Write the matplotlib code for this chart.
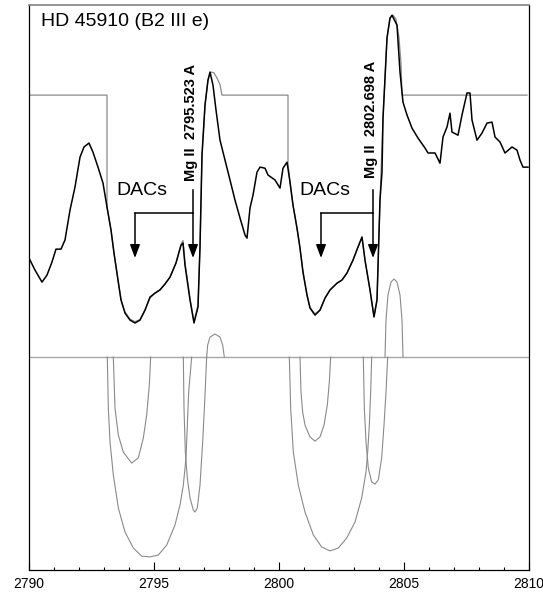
import matplotlib
matplotlib.use("Agg")
import matplotlib.pyplot as plt
from matplotlib.ticker import MultipleLocator

# ---------------- DATA ---------------- #

# observed Mg II spectrum (wavelength in A, normalised flux)
spec_wl = [
    2790.00, 2790.24, 2790.52, 2790.72, 2790.92, 2791.08, 2791.28, 2791.44,
    2791.64, 2791.84, 2792.04, 2792.20, 2792.40, 2792.56, 2792.76, 2792.96,
    2793.12, 2793.28, 2793.40, 2793.56, 2793.68, 2793.84, 2794.04, 2794.24,
    2794.44, 2794.64, 2794.84, 2795.04, 2795.24, 2795.44, 2795.64, 2795.88,
    2796.08, 2796.16, 2796.24, 2796.44, 2796.60, 2796.76, 2796.84, 2796.92,
    2797.04, 2797.16, 2797.24, 2797.36, 2797.48, 2797.64, 2797.84, 2798.04,
    2798.24, 2798.44, 2798.64, 2798.72, 2798.84, 2798.96, 2799.12, 2799.24,
    2799.44, 2799.56, 2799.84, 2800.04, 2800.16, 2800.32, 2800.44, 2800.56,
    2800.72, 2800.84, 2800.96, 2801.12, 2801.24, 2801.44, 2801.64, 2801.84,
    2802.04, 2802.32, 2802.52, 2802.72, 2802.96, 2803.16, 2803.32, 2803.44,
    2803.64, 2803.80, 2803.92, 2804.04, 2804.12, 2804.16, 2804.32, 2804.44,
    2804.52, 2804.72, 2804.84, 2804.96, 2805.12, 2805.32, 2805.56, 2805.84,
    2805.96, 2806.24, 2806.44, 2806.56, 2806.72, 2806.84, 2806.92, 2807.16,
    2807.32, 2807.52, 2807.64, 2807.72, 2807.92, 2808.12, 2808.32, 2808.52,
    2808.64, 2808.84, 2809.04, 2809.32, 2809.52, 2809.64, 2809.76, 2809.96,
]
spec_flux = [
    0.378, 0.332, 0.286, 0.313, 0.363, 0.412, 0.412, 0.447,
    0.561, 0.649, 0.763, 0.802, 0.817, 0.782, 0.725, 0.664,
    0.573, 0.485, 0.397, 0.294, 0.218, 0.168, 0.141, 0.130,
    0.141, 0.179, 0.229, 0.244, 0.256, 0.279, 0.305, 0.359,
    0.427, 0.435, 0.351, 0.218, 0.130, 0.191, 0.420, 0.771,
    0.962, 1.057, 1.088, 1.038, 0.943, 0.828, 0.752, 0.676,
    0.599, 0.531, 0.466, 0.454, 0.569, 0.618, 0.706, 0.725,
    0.721, 0.695, 0.676, 0.645, 0.721, 0.744, 0.668, 0.580,
    0.492, 0.416, 0.324, 0.237, 0.187, 0.160, 0.179, 0.225,
    0.256, 0.282, 0.294, 0.321, 0.370, 0.420, 0.458, 0.370,
    0.256, 0.153, 0.218, 0.599, 0.706, 0.912, 1.218, 1.294,
    1.305, 1.267, 1.088, 0.973, 0.924, 0.874, 0.836, 0.798,
    0.779, 0.779, 0.740, 0.840, 0.878, 0.931, 0.859, 0.847,
    0.924, 1.008, 1.008, 0.905, 0.828, 0.855, 0.893, 0.897,
    0.840, 0.821, 0.779, 0.802, 0.790, 0.752, 0.725, 0.725,
]

# model fit with continuum outside the fitted ranges
model_wl = [
    2790.00, 2793.12, 2793.12, 2793.28, 2793.40, 2793.56, 2793.68, 2793.84,
    2794.04, 2794.24, 2794.44, 2794.64, 2794.84, 2795.04, 2795.24, 2795.44,
    2795.64, 2795.88, 2796.08, 2796.16, 2796.24, 2796.44, 2796.60, 2796.76,
    2796.84, 2796.92, 2797.04, 2797.16, 2797.28, 2797.40, 2797.52, 2797.64,
    2797.72, 2800.36, 2800.36, 2800.44, 2800.56, 2800.72, 2800.84, 2800.96,
    2801.12, 2801.24, 2801.44, 2801.64, 2801.84, 2802.04, 2802.32, 2802.52,
    2802.72, 2802.96, 2803.16, 2803.32, 2803.44, 2803.64, 2803.80, 2803.92,
    2804.04, 2804.16, 2804.32, 2804.44, 2804.56, 2804.68, 2804.80, 2804.88,
    2804.92, 2809.92,
]
model_flux = [
    1.000, 1.000, 0.573, 0.485, 0.397, 0.294, 0.218, 0.172,
    0.145, 0.135, 0.143, 0.180, 0.225, 0.245, 0.258, 0.278,
    0.305, 0.360, 0.430, 0.445, 0.360, 0.225, 0.135, 0.200,
    0.420, 0.770, 0.960, 1.060, 1.088, 1.085, 1.065, 1.040,
    1.000, 1.000, 0.740, 0.668, 0.580, 0.492, 0.416, 0.324,
    0.237, 0.190, 0.165, 0.180, 0.225, 0.256, 0.282, 0.294,
    0.321, 0.370, 0.420, 0.458, 0.370, 0.256, 0.155, 0.218,
    0.599, 0.912, 1.218, 1.294, 1.305, 1.290, 1.220, 1.120,
    1.000, 1.000,
]

# individual components (drawn below / above the zero line)
broad1_wl = [2793.133, 2793.173, 2793.24, 2793.373, 2793.573, 2793.84, 2794.173,
             2794.507, 2794.84, 2795.173, 2795.507, 2795.84, 2796.04, 2796.173,
             2796.28, 2796.333, 2796.387, 2796.507]
broad1_val = [0.0, -0.195, -0.324, -0.450, -0.576, -0.668, -0.729,
              -0.760, -0.763, -0.756, -0.718, -0.641, -0.565, -0.489,
              -0.385, -0.260, -0.134, 0.0]

dac1_wl = [2793.373, 2793.44, 2793.573, 2793.773, 2794.107, 2794.373, 2794.573,
           2794.707, 2794.813, 2794.867]
dac1_val = [0.0, -0.195, -0.298, -0.363, -0.405, -0.385, -0.309,
            -0.221, -0.107, 0.0]

narrow1_wl = [2796.173, 2796.20, 2796.253, 2796.333, 2796.44, 2796.573, 2796.64,
              2796.733, 2796.84, 2796.947, 2797.027, 2797.107]
narrow1_val = [0.0, -0.195, -0.363, -0.462, -0.538, -0.584, -0.592,
               -0.576, -0.489, -0.324, -0.172, 0.0]

emis1_wl = [2797.107, 2797.147, 2797.24, 2797.44, 2797.64, 2797.747, 2797.813]
emis1_val = [0.0, 0.046, 0.076, 0.088, 0.076, 0.046, 0.0]

broad2_wl = [2800.413, 2800.467, 2800.573, 2800.773, 2801.04, 2801.373, 2801.707,
             2802.04, 2802.373, 2802.707, 2803.04, 2803.307, 2803.48, 2803.547,
             2803.613, 2803.667, 2803.707]
broad2_val = [0.0, -0.195, -0.363, -0.489, -0.592, -0.679, -0.725,
              -0.740, -0.729, -0.691, -0.630, -0.538, -0.439, -0.363,
              -0.260, -0.134, 0.0]

dac2_wl = [2800.84, 2800.88, 2800.947, 2801.04, 2801.24, 2801.44, 2801.64,
           2801.80, 2801.933, 2802.013, 2802.067]
dac2_val = [0.0, -0.134, -0.210, -0.260, -0.305, -0.321, -0.305,
            -0.260, -0.183, -0.095, 0.0]

narrow2_wl = [2803.373, 2803.413, 2803.48, 2803.573, 2803.707, 2803.84, 2803.973,
              2804.107, 2804.20, 2804.28, 2804.347]
narrow2_val = [0.0, -0.195, -0.324, -0.424, -0.477, -0.485, -0.469,
               -0.385, -0.260, -0.134, 0.0]

emis2_wl = [2804.24, 2804.28, 2804.36, 2804.48, 2804.60, 2804.72, 2804.84,
            2804.92, 2804.96]
emis2_val = [0.0, 0.141, 0.237, 0.286, 0.298, 0.286, 0.237, 0.141, 0.0]

x_ticks = [2790, 2795, 2800, 2805, 2810]
x_tick_labels = ["2790", "2795", "2800", "2805", "2810"]

# ---------------- STYLE ---------------- #

CONFIG = {
    "figsize": (5.43, 5.94),
    "dpi": 100,
    "font": ["Liberation Sans", "DejaVu Sans"],
    "gray": "#8a8a8a",
    "base_gray": "#a8a8a8",
    "xlim": (2790, 2810),
    "ylim": (-0.813, 1.344),
}

plt.rcParams["font.family"] = CONFIG["font"]


def draw_arrows(ax, left_x, right_x, top_y, join_y, tip_y):
    # bracket: vertical from the label down, branch to the left
    ax.plot([right_x, right_x], [top_y, join_y], color="black", lw=1.1)
    ax.plot([left_x, right_x], [join_y, join_y], color="black", lw=1.1)
    for x in (left_x, right_x):
        ax.annotate(
            "",
            xy=(x, tip_y),
            xytext=(x, join_y),
            arrowprops=dict(
                arrowstyle="-|>,head_length=0.8,head_width=0.3",
                color="black",
                lw=1.1,
                shrinkA=0,
                shrinkB=0,
            ),
        )


def main():

    fig = plt.figure(figsize=CONFIG["figsize"], dpi=CONFIG["dpi"])
    ax = fig.add_axes([29 / 543, 1 - 570 / 594, 500 / 543, 565 / 594])

    gray = CONFIG["gray"]

    # zero line for components
    ax.axhline(0, color=CONFIG["base_gray"], lw=1.0, zorder=1)

    for wl, val in [
        (broad1_wl, broad1_val),
        (dac1_wl, dac1_val),
        (narrow1_wl, narrow1_val),
        (emis1_wl, emis1_val),
        (broad2_wl, broad2_val),
        (dac2_wl, dac2_val),
        (narrow2_wl, narrow2_val),
        (emis2_wl, emis2_val),
    ]:
        ax.plot(wl, val, color=gray, lw=0.8, zorder=2)

    # model
    ax.plot(model_wl, model_flux, color=gray, lw=0.9, zorder=2)

    # observed spectrum
    ax.plot(spec_wl, spec_flux, color="black", lw=1.1, zorder=3)

    # annotations
    ax.text(0.024, 0.986, "HD 45910 (B2 III e)", transform=ax.transAxes,
            fontsize=14, ha="left", va="top")

    ax.text(2794.52, 0.634, "DACs", fontsize=14, ha="center", va="center")
    ax.text(2801.84, 0.634, "DACs", fontsize=14, ha="center", va="center")

    ax.text(2796.48, 0.672, "Mg II  2795.523 A", rotation=90, fontsize=10.5,
            fontweight="bold", ha="center", va="bottom")
    ax.text(2803.68, 0.683, "Mg II  2802.698 A", rotation=90, fontsize=10.5,
            fontweight="bold", ha="center", va="bottom")

    draw_arrows(ax, 2794.24, 2796.56, 0.637, 0.550, 0.378)
    draw_arrows(ax, 2801.68, 2803.76, 0.637, 0.550, 0.378)

    # axes
    ax.set_xlim(*CONFIG["xlim"])
    ax.set_ylim(*CONFIG["ylim"])
    ax.set_xticks(x_ticks)
    ax.set_xticklabels(x_tick_labels)
    ax.xaxis.set_minor_locator(MultipleLocator(1))
    ax.tick_params(axis="x", which="major", direction="in", length=6,
                   width=0.8, pad=5, labelsize=10)
    ax.tick_params(axis="x", which="minor", direction="in", length=2.5,
                   width=0.8)
    ax.set_yticks([])

    for side in ["left", "right", "bottom"]:
        ax.spines[side].set_color("black")
        ax.spines[side].set_linewidth(0.9)
    ax.spines["top"].set_color("#808080")
    ax.spines["top"].set_linewidth(1.2)

    fig.savefig("out.png", dpi=CONFIG["dpi"], facecolor="white")
    plt.close(fig)


if __name__ == "__main__":
    main()
